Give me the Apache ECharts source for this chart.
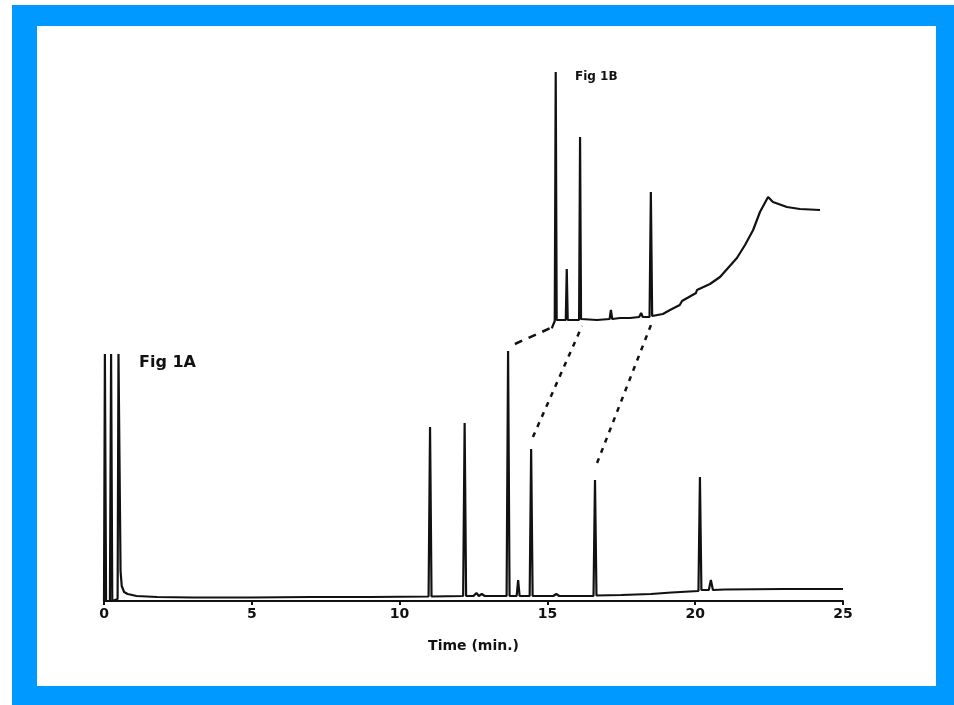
<!DOCTYPE html>
<html>
<head>
<meta charset="utf-8">
<script src="https://cdn.jsdelivr.net/npm/echarts@6/dist/echarts.min.js"></script>
<style>
  html, body { margin: 0; padding: 0; background: #fff; }
  #frame { position: absolute; left: 12px; top: 5px; width: 942px; height: 700px; background: #0099FF; }
  #paper { position: absolute; left: 37px; top: 26px; width: 899px; height: 660px; background: #fff; }
  #chart { position: absolute; left: 0; top: 0; width: 954px; height: 705px; }
</style>
</head>
<body>
<div id="frame"></div>
<div id="paper"></div>
<div id="chart"></div>
<script>
// x ticks (minutes)
const timeTicks = [0, 5, 10, 15, 20, 25];

// Fig 1A trace: [time (min), detector response]
const traceA = [
    [0.0, 0], [0.03, 247], [0.07, 0],
    [0.2, 0], [0.24, 247], [0.28, 0],
    [0.46, 2], [0.49, 247], [0.56, 30], [0.6, 15], [0.68, 9], [0.8, 7], [1.1, 5],
    [1.8, 4], [3, 3.5], [5, 3.5], [7, 4], [9, 4], [10.98, 4.5],
    [11.03, 174], [11.08, 4.5],
    [12.15, 5], [12.2, 178], [12.25, 5],
    [12.5, 5], [12.6, 8], [12.68, 5], [12.78, 7], [12.88, 5],
    [13.62, 5], [13.67, 250], [13.72, 5],
    [13.96, 5], [14.01, 21], [14.06, 5],
    [14.4, 5], [14.45, 152], [14.5, 5],
    [15.2, 5], [15.3, 7], [15.4, 5],
    [16.56, 5], [16.61, 121], [16.66, 5.5],
    [17.5, 6], [18.5, 7], [19.2, 8.5], [19.8, 9.5], [20.11, 10],
    [20.16, 124], [20.21, 11],
    [20.46, 11], [20.53, 21], [20.6, 11],
    [21, 11.5], [23, 12], [25, 12]
];

// Fig 1B trace (expanded run): [time (min), detector response]
const traceB = [
    [13.56, 1.7], [13.6, 5], [13.65, 9], [13.68, 258], [13.71, 10],
    [13.8, 10], [13.99, 10], [14.02, 61], [14.05, 10],
    [14.2, 10], [14.4, 10], [14.43, 193], [14.46, 11],
    [14.95, 10], [15.34, 11], [15.38, 20], [15.42, 11],
    [15.66, 12], [15.97, 12], [16.25, 13], [16.31, 17], [16.36, 13],
    [16.57, 13], [16.61, 138], [16.65, 14],
    [16.98, 16], [17.2, 20], [17.5, 25], [17.57, 29], [17.62, 27],
    [18.0, 37], [18.03, 40], [18.08, 38], [18.43, 46], [18.74, 53],
    [19.26, 72], [19.51, 85], [19.76, 100], [19.97, 118], [20.22, 133],
    [20.37, 128], [20.8, 123], [21.2, 121], [21.82, 120]
];

// connectors: point above the Fig 1A peak -> matching peak base in Fig 1B
const linkFromA = [[13.9, 257], [14.51, 164], [16.68, 138]];
const linkToB = [[13.66, 4], [14.49, 4], [16.65, 8]];
const linkDash = [[8, 7], [5, 6], [5, 6]];

const font = '"DejaVu Sans", sans-serif';
const ink = "#111";

const chart = echarts.init(document.getElementById("chart"));

chart.setOption({
    animation: false,
    backgroundColor: "transparent",
    title: [
        {
            text: "Fig 1A", left: 139, top: 355, padding: 0,
            textStyle: { fontFamily: font, fontWeight: "bold", fontSize: 16, color: ink }
        },
        {
            text: "Fig 1B", left: 575, top: 71, padding: 0,
            textStyle: { fontFamily: font, fontWeight: "bold", fontSize: 12, color: ink }
        }
    ],
    grid: [
        { left: 104, right: 111, top: 351, bottom: 104 },
        { left: 545, right: 133, top: 70, bottom: 375 }
    ],
    xAxis: [
        {
            gridIndex: 0,
            type: "value",
            min: timeTicks[0],
            max: timeTicks[timeTicks.length - 1],
            interval: 5,
            splitLine: { show: false },
            axisLine: { lineStyle: { color: ink, width: 2 } },
            axisTick: { length: 4, lineStyle: { color: ink, width: 2 } },
            axisLabel: { color: ink, fontFamily: font, fontWeight: "bold", fontSize: 14, margin: 6 },
            name: "Time (min.)",
            nameLocation: "middle",
            nameGap: 38,
            nameTextStyle: { color: ink, fontFamily: font, fontWeight: "bold", fontSize: 14 }
        },
        { gridIndex: 1, type: "value", min: 13.35, max: 21.85, show: false }
    ],
    yAxis: [
        { gridIndex: 0, type: "value", min: 0, max: 250, show: false },
        { gridIndex: 1, type: "value", min: 0, max: 260, show: false }
    ],
    series: [
        {
            name: "Fig 1A",
            type: "line",
            xAxisIndex: 0,
            yAxisIndex: 0,
            data: traceA,
            showSymbol: false,
            clip: false,
            lineStyle: { color: ink, width: 2.2 }
        },
        {
            name: "Fig 1B",
            type: "line",
            xAxisIndex: 1,
            yAxisIndex: 1,
            data: traceB,
            showSymbol: false,
            clip: false,
            lineStyle: { color: ink, width: 2.2 }
        }
    ]
});

// dashed links drawn through both grids' scales
const links = linkFromA.map(function (a, i) {
    const p1 = chart.convertToPixel({ gridIndex: 0 }, a);
    const p2 = chart.convertToPixel({ gridIndex: 1 }, linkToB[i]);
    return {
        type: "line",
        shape: { x1: p1[0], y1: p1[1], x2: p2[0], y2: p2[1] },
        style: { stroke: ink, lineWidth: 2.5, lineDash: linkDash[i] },
        z: 5
    };
});
chart.setOption({ graphic: links });
</script>
</body>
</html>
